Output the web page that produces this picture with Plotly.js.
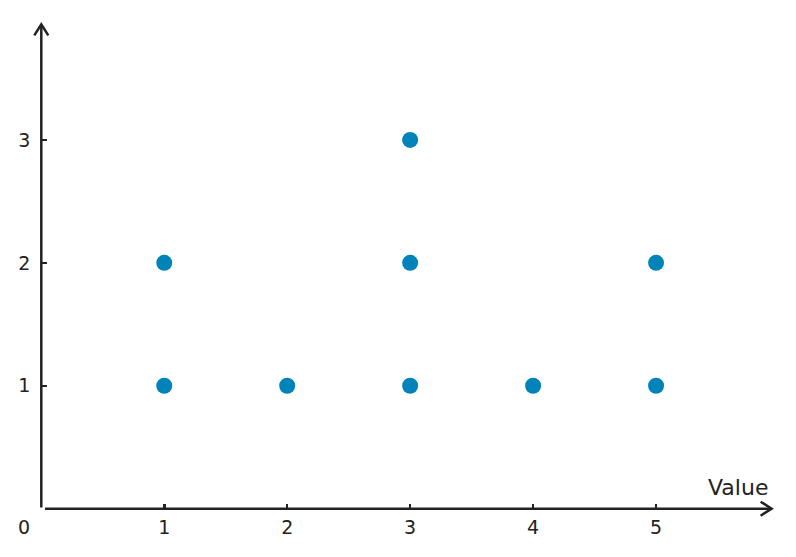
<!DOCTYPE html>
<html>
<head>
<meta charset="utf-8">
<script src="https://cdn.plot.ly/plotly-3.0.1.min.js"></script>
<style>
  html, body { margin: 0; padding: 0; background: #fff; }
  #plot { width: 796px; height: 557px; }
</style>
</head>
<body>
<div id="plot"></div>
<script>
    // observed values, one dot each, stacked per value
    let values = [1, 1, 2, 3, 3, 3, 4, 5, 5];
    let xTicks = [1, 2, 3, 4, 5];
    let yTicks = [1, 2, 3];
    let axisLabel = 'Value';

    let seen = {};
    let dotX = [];
    let dotY = [];
    values.forEach((v) => {
        seen[v] = (seen[v] || 0) + 1;
        dotX.push(v);
        dotY.push(seen[v]);
    });

    let ink = '#222222';
    let font = {family: 'DejaVu Sans, sans-serif', size: 19, color: ink};

    let xr = [-0.1, 6.0];
    let yr = [-0.1, 4.0];

    let trace = {
        type: 'scatter',
        mode: 'markers',
        x: dotX,
        y: dotY,
        marker: {size: 16, color: '#0083b8'},
        hoverinfo: 'x+y'
    };

    let layout = {
        width: 796,
        height: 557,
        margin: {l: 29, r: 17, t: 17, b: 36},
        paper_bgcolor: '#fff',
        plot_bgcolor: '#fff',
        showlegend: false,
        font: font,
        xaxis: {
            range: xr,
            anchor: 'free',
            position: -yr[0] / (yr[1] - yr[0]),
            tickvals: xTicks,
            ticktext: xTicks.map(String),
            ticks: 'inside',
            ticklen: 5,
            tickwidth: 2.5,
            tickcolor: ink,
            ticklabelstandoff: 5,
            showgrid: false,
            zeroline: false,
            showline: false,
            tickfont: font,
            fixedrange: true
        },
        yaxis: {
            range: yr,
            anchor: 'free',
            position: -xr[0] / (xr[1] - xr[0]),
            tickvals: yTicks,
            ticktext: yTicks.map(String),
            ticks: 'inside',
            ticklen: 5,
            tickwidth: 2.5,
            tickcolor: ink,
            ticklabelstandoff: 11,
            showgrid: false,
            zeroline: false,
            showline: false,
            tickfont: font,
            fixedrange: true
        },
        shapes: [
            // x axis line
            {type: 'line', xref: 'x', yref: 'y', x0: 0.03, y0: 0, x1: 5.93, y1: 0,
             line: {color: ink, width: 2.5}},
            // y axis line
            {type: 'line', xref: 'x', yref: 'y', x0: 0, y0: 0.01, x1: 0, y1: 3.93,
             line: {color: ink, width: 2.5}},
            // arrow heads
            {type: 'path', xref: 'x', yref: 'y', xsizemode: 'pixel', ysizemode: 'pixel',
             xanchor: 5.94, yanchor: 0, path: 'M-11,7 L0,0 L-11,-7',
             line: {color: ink, width: 2.5}},
            {type: 'path', xref: 'x', yref: 'y', xsizemode: 'pixel', ysizemode: 'pixel',
             xanchor: 0, yanchor: 3.94, path: 'M-7,-11 L0,0 L7,-11',
             line: {color: ink, width: 2.5}}
        ],
        annotations: [
            {text: '0', xref: 'x', yref: 'y', x: 0, y: 0, xshift: -17, yshift: -18,
             showarrow: false, font: font},
            {text: axisLabel, xref: 'x', yref: 'y', x: 5.93, y: 0.17, xanchor: 'right',
             yanchor: 'middle', showarrow: false,
             font: {family: 'DejaVu Sans, sans-serif', size: 22, color: ink}}
        ]
    };

    Plotly.newPlot('plot', [trace], layout, {displayModeBar: false, staticPlot: true});
</script>
</body>
</html>
